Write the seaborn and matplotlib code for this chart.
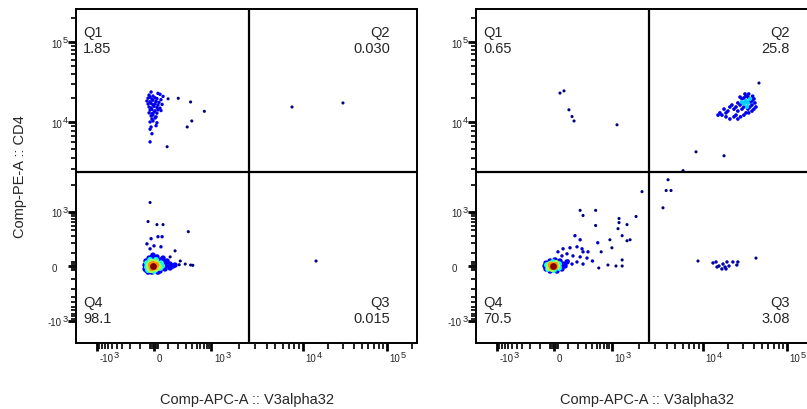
import numpy as np
import pandas as pd
import matplotlib
matplotlib.use("Agg")
import matplotlib.pyplot as plt
from matplotlib.ticker import FixedLocator, NullFormatter, NullLocator
import seaborn as sns

# ---------------- data ----------------
x_label = "Comp-APC-A :: V3alpha32"
y_label = "Comp-PE-A :: CD4"
quad_names = ["Q1", "Q2", "Q3", "Q4"]
left_pct = ["1.85", "0.030", "0.015", "98.1"]
right_pct = ["0.65", "25.8", "3.08", "70.5"]
gate_x = 2580
gate_y = 2770
tick_vals = [-1e3, 0, 1e3, 1e4, 1e5]
tick_base = ["-10", "0", "10", "10", "10"]
tick_exp = ["3", "", "3", "4", "5"]

L_sparse_x = [102, 199, 377, 721, 399, 319, 94, 7590, 29900, 14300, -27, 337, 165, 223, 289, 377, 210, 420, 119, -41, 20, 63]
L_sparse_y = [19500, 19800, 17800, 13600, 10300, 8800, 5300, 15400, 17300, 36, 1263, 370, 118, 36, 14, 7, 9, 5, 67, 614, 528, 528]
L_q1_x = [-20, 27, -34, -7, 41, 63, -41, -27, -14, 7, 20, 48, -49, -27, -7, 14, 34, -41, -20, -7, 7, 27, 56,
          -34, -20, 0, 20, 41, -27, -14, 7, 27, 48, -34, -14, 0, 20, -20, -7, 14, -14, 7, -27, -7, 20, -20, 14, -27, -14, -27]
L_q1_y = [23700, 22800, 21700, 21100, 22200, 20900, 19900, 20400, 19300, 20100, 19600, 19000, 18300, 17900, 18700, 18100, 17600,
          16800, 17100, 16400, 16900, 16300, 16600, 15400, 15000, 15700, 15200, 14900, 14100, 14400, 13800, 14200, 13900,
          13000, 12700, 13300, 12900, 11900, 12200, 11600, 10900, 11200, 10000, 10300, 9800, 8800, 9100, 8300, 7400, 6000]
L_near_x = [-20, 27, 56, -49, 0, 48, -27]
L_near_y = [255, 284, 284, 189, 167, 157, 137]
L_blob_x = [-63, -63, -56, -34, -14, 20, 48, 78, 94, 119, 146, 119, 78, 41, -14, -41, -56, 94, 63, -7, 165, 27,
            -49, -49, -41, 41, 48, -27, 14, 56, 0,
            -34, -34, 27, 20, -20, 7, -20, 14, 34,
            -20, 7, -7, -14, 14,
            -7]
L_blob_y = [7, -21, 36, 58, 67, 67, 44, 29, 7, 14, 0, -14, -21, -36, -44, -44, -29, 36, 58, 81, 7, -44,
            21, -7, -29, -14, 20, 44, 44, 0, -36,
            7, -14, 0, 14, 29, 29, -29, -21, -7,
            7, -7, 14, -14, 7,
            0]
L_blob_lvl = [0.12] * 22 + [0.38] * 9 + [0.55] * 9 + [0.75] * 5 + [1.0]

R_sparse_x = [41, 70, 109, 136, 155, 1150, 46400, 8390, 17800, 6060, 4160, 3960, 4480, 3660, 2160, 8820, 42700,
              221, 480, 258, 480, 1210, 1210, 1480, 1860, 1180, 930, 1310, 1480, 1600, 622, 1010, 1310, 556, 850, 1120, 1310]
R_sparse_y = [23000, 24500, 14200, 11700, 10300, 9300, 30700, 4650, 4200, 2870, 2270, 1720, 1720, 1100, 1670, 36, 58,
              1030, 1030, 825, 505, 713, 584, 528, 786, 431, 240, 300, 227, 240, 109, 147, 44, -14, 7, 0, 0]
R_near_x = [164, 221, 530, 63, 118, 185, 245, 258, 332, 93, 145, 221, 316, 412, 185, 258, 27, 55, 102, 136]
R_near_y = [300, 240, 202, 137, 147, 157, 137, 109, 109, 92, 75, 67, 58, 36, 29, 14, 109, 75, 36, 14]
R_q2_x = [27600, 29100, 30700, 32500, 34300, 36200, 38300, 40400, 38300, 36200, 34300, 30700, 29100, 27600, 26000,
          24700, 23400, 26000, 22100, 20900, 19800, 18800, 17800, 16800, 15900, 15100, 18800, 20900, 23400, 24700,
          26000, 28000, 30700, 32500, 35000, 38300, 40400, 42700, 41500, 39000, 35000, 31600]
R_q2_y = [20500, 19400, 20000, 21000, 20500, 17800, 18300, 19400, 16300, 15400, 14500, 15400, 14500, 16300, 17300,
          15400, 14500, 13700, 16300, 15400, 13700, 13000, 14500, 12200, 13000, 12200, 11600, 10900, 11600, 12200,
          10900, 11600, 12200, 13000, 13000, 13700, 14500, 15400, 17300, 21000, 22400, 22400]
R_q2_core_x = [32500, 34300, 30700, 36200, 33400, 29100]
R_q2_core_y = [18300, 17300, 16800, 19400, 15400, 17800]
R_q3_x = [13150, 14300, 14700, 15500, 16800, 17300, 18300, 18800, 19300, 20400, 22700, 25300, 26000]
R_q3_y = [22, 29, -7, 0, -21, 14, -7, -21, 29, 0, 29, 7, 29]
R_blob_x = [-63, -56, -27, 7, 41, 63, 78, 55, 20, -27, -56, 93,
            -49, -41, 34, 34, -7, 0,
            -34, -27, 20, 14, -14, -34,
            -20, 7, -14, 7,
            -7]
R_blob_y = [0, 21, 36, 44, 36, 14, 0, -21, -36, -36, -21, 29,
            7, -21, 14, -14, 29, -29,
            0, 14, 0, 21, -21, -14,
            7, -7, -7, 7,
            0]
R_blob_lvl = [0.12] * 12 + [0.38] * 6 + [0.55] * 6 + [0.75] * 4 + [1.0]

# ---------------- axis scale ----------------
W = 150.0
X_KV = [-1e6, -1e3, 0, 1e3, 1e4, 1e5, 1e7]
X_KP = [-130.5, 21, 78, 135.5, 227, 311, 479]
Y_KV = [-1e6, -1e3, 0, 1e3, 1e4, 1e5, 1e7]
Y_KP = [-124.2, 22, 77, 131.5, 221, 301, 461]


def make_funcs(kv, kp):
    A = np.arcsinh(np.asarray(kv, float) / W)
    P = np.asarray(kp, float)

    def fwd(v):
        return np.interp(np.arcsinh(np.asarray(v, float) / W), A, P)

    def inv(d):
        return W * np.sinh(np.interp(np.asarray(d, float), P, A))
    return fwd, inv


fx, ix = make_funcs(X_KV, X_KP)
fy, iy = make_funcs(Y_KV, Y_KP)

minor_ticks = ([-m * 100.0 for m in range(1, 10)] + [-30.0, -20.0, -10.0, 10.0, 20.0, 30.0] +
               [m * 100.0 for m in range(1, 10)] + [m * 1000.0 for m in range(2, 10)] +
               [m * 10000.0 for m in range(2, 10)] + [200000.0])

JET = matplotlib.colormaps["jet"]

sns.set_style("ticks")
plt.rcParams["font.family"] = ["Liberation Sans", "DejaVu Sans"]

FW, FH = 807, 410
PX = 72 / 100  # points per pixel
fig = plt.figure(figsize=(FW / 100, FH / 100), dpi=100)
fig.patch.set_facecolor("white")

AX_W, AX_H = 341, 334
panels = [
    dict(left=76, pct=left_pct, ylab=True,
         groups=[(L_sparse_x, L_sparse_y, None, 0.0, 5),
                 (L_q1_x, L_q1_y, None, 0.09, 6),
                 (L_near_x, L_near_y, None, 0.06, 6),
                 (L_blob_x, L_blob_y, L_blob_lvl, None, None)]),
    dict(left=476, pct=right_pct, ylab=False,
         groups=[(R_sparse_x, R_sparse_y, None, 0.0, 5),
                 (R_near_x, R_near_y, None, 0.07, 6),
                 (R_q3_x, R_q3_y, None, 0.04, 6),
                 (R_q2_x, R_q2_y, None, 0.09, 7),
                 (R_q2_core_x, R_q2_core_y, None, 0.33, 9),
                 (R_blob_x, R_blob_y, R_blob_lvl, None, None)]),
]

TFS, EFS = 7.0, 6.7
MINOR_LEN = 5.5  # px

for p in panels:
    rect = [p["left"] / FW, (FH - 344) / FH, AX_W / FW, AX_H / FH]
    ax = fig.add_axes(rect)
    ax.set_xscale("function", functions=(fx, ix))
    ax.set_yscale("function", functions=(fy, iy))

    for gx, gy, glvl, const_lvl, size in p["groups"]:
        if glvl is None:
            df = pd.DataFrame({"x": gx, "y": gy, "lvl": [const_lvl] * len(gx)})
            sns.scatterplot(data=df, x="x", y="y", hue="lvl", palette=JET, hue_norm=(0, 1),
                            s=size, linewidth=0, legend=False, ax=ax)
        else:
            df = pd.DataFrame({"x": gx, "y": gy, "lvl": glvl})
            for lv, sub in df.groupby("lvl", sort=True):
                sns.scatterplot(data=sub, x="x", y="y", hue="lvl", palette=JET, hue_norm=(0, 1),
                                s=14 + 10 * lv, linewidth=0, legend=False, ax=ax)

    ax.set_xlim(ix(0), ix(AX_W))
    ax.set_ylim(iy(0), iy(AX_H))
    ax.axvline(gate_x, color="black", lw=1.6, zorder=5)
    ax.axhline(gate_y, color="black", lw=1.6, zorder=5)

    for s in ax.spines.values():
        s.set_linewidth(1.4)
        s.set_color("black")
        s.set_visible(True)

    ax.xaxis.set_major_locator(FixedLocator(tick_vals))
    ax.yaxis.set_major_locator(FixedLocator(tick_vals))
    ax.xaxis.set_minor_locator(NullLocator())
    ax.yaxis.set_minor_locator(NullLocator())
    ax.xaxis.set_major_formatter(NullFormatter())
    ax.yaxis.set_major_formatter(NullFormatter())
    ax.tick_params(direction="out", length=6.0, width=2.0, color="black",
                   bottom=True, left=True, top=False, right=False)

    # small tick marks drawn as short outward segments
    xt = ax.get_xaxis_transform()
    yt_ = ax.get_yaxis_transform()
    for m in minor_ticks:
        ax.plot([m, m], [0, -MINOR_LEN / AX_H], transform=xt, color="#111111", lw=1.3,
                clip_on=False, solid_capstyle="butt", zorder=10, scalex=False, scaley=False)
        ax.plot([0, -MINOR_LEN / AX_W], [m, m], transform=yt_, color="#111111", lw=1.3,
                clip_on=False, solid_capstyle="butt", zorder=10, scalex=False, scaley=False)

    # tick labels: base number plus raised exponent, as real text
    for v, b, e in zip(tick_vals, tick_base, tick_exp):
        tb = ax.annotate(b, xy=(v, 0), xycoords=("data", "axes fraction"),
                         xytext=(2.5 * PX, -10.5 * PX), textcoords="offset points",
                         ha="left", va="top", fontsize=TFS, annotation_clip=False)
        if e:
            ax.annotate(e, xy=(1, 1), xycoords=tb, xytext=(0.3, 3.2 * PX),
                        textcoords="offset points", ha="left", va="top", fontsize=EFS)
        shift = 0 if e else 5
        tl = ax.annotate(b, xy=(0, v), xycoords=("axes fraction", "data"),
                         xytext=(-(14 + shift) * PX, -1.5 * PX), textcoords="offset points",
                         ha="right", va="center", fontsize=TFS, annotation_clip=False)
        if e:
            ax.annotate(e, xy=(1, 1), xycoords=tl, xytext=(0.3, 3.2 * PX),
                        textcoords="offset points", ha="left", va="top", fontsize=EFS)

    ax.set_xlabel(x_label, fontsize=10.5, labelpad=26)
    if p["ylab"]:
        ax.set_ylabel(y_label, fontsize=10.5, labelpad=26)
    else:
        ax.set_ylabel("")

    pct = p["pct"]
    xl, xr = 7 / AX_W, 314 / AX_W
    yt, yb = 1 - 16 / AX_H, 1 - 286 / AX_H
    kw = dict(transform=ax.transAxes, fontsize=10.5, va="top", linespacing=1.2, zorder=6)
    ax.text(xl, yt, f"{quad_names[0]}\n{pct[0]}", ha="left", **kw)
    ax.text(xr, yt, f"{quad_names[1]}\n{pct[1]}", ha="right", multialignment="right", **kw)
    ax.text(xr, yb, f"{quad_names[2]}\n{pct[2]}", ha="right", multialignment="right", **kw)
    ax.text(xl, yb, f"{quad_names[3]}\n{pct[3]}", ha="left", **kw)

fig.savefig("out.png", dpi=100, facecolor="white")
